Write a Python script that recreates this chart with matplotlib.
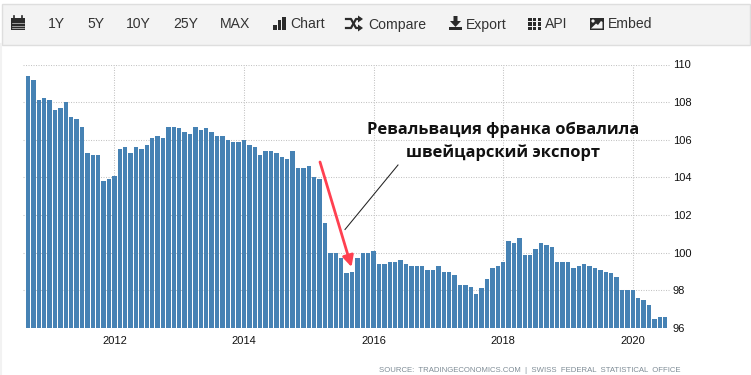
import matplotlib
matplotlib.use("Agg")
import matplotlib.pyplot as plt
from matplotlib.patches import Rectangle, Polygon, Circle

W, H = 751, 375
values = [109.4,109.2,108.1,108.2,108.1,107.6,107.7,108.0,107.2,107.1,106.7,105.3,105.2,105.2,103.8,103.9,
 104.1,105.5,105.6,105.3,105.6,105.5,105.7,106.1,106.2,106.1,106.7,106.7,106.6,106.4,106.3,106.7,106.5,106.6,106.4,106.2,106.2,106.0,105.9,105.9,
 106.0,105.7,105.6,105.2,105.4,105.4,105.3,105.1,105.0,105.4,104.5,104.5,104.6,104.0,103.9,101.6,100.0,100.0,99.7,98.9,99.0,99.7,100.0,100.0,
 100.1,99.4,99.4,99.5,99.5,99.6,99.4,99.3,99.3,99.3,99.1,99.1,99.3,99.0,99.0,98.8,98.3,98.3,98.2,97.8,98.1,98.6,99.2,99.3,
 99.5,100.6,100.5,100.8,99.9,99.9,100.2,100.5,100.4,100.3,99.5,99.5,99.5,99.2,99.3,99.4,99.3,99.2,99.1,99.0,98.9,98.7,98.0,98.0,
 98.0,97.6,97.5,97.2,96.5,96.6,96.6]
year_labels = ["2012","2014","2016","2018","2020"]
year_pos = [16,40,64,88,112]
y_ticks = [96,98,100,102,104,106,108,110]
toolbar = [("1Y",48),("5Y",87),("10Y",126),("25Y",173),("MAX",220),("Chart",290),("Compare",368),("Export",466),("API",545),("Embed",608)]
title_lines = ["Ревальвация франка обвалила","швейцарский экспорт"]
source = "SOURCE:  TRADINGECONOMICS.COM  |  SWISS  FEDERAL  STATISTICAL  OFFICE"

fig = plt.figure(figsize=(W/100,H/100),dpi=100,facecolor="white")
L,R,T,B = 23,670,64.5,328
ax = fig.add_axes([L/W,1-B/H,(R-L)/W,(B-T)/H])
step = 5.4
ax.set_xlim((L-28)/step,(R-28)/step)
ax.set_ylim(96,110)
ax.bar(range(len(values)),values,width=0.78,color="#4682B4",zorder=3,bottom=0)
ax.set_xticks(year_pos,year_labels)
ax.set_yticks(y_ticks)
ax.yaxis.tick_right()
ax.grid(True,color="#c4c4c4",linestyle=(0,(1,1.4)),linewidth=0.75,zorder=1)
for s in ax.spines.values(): s.set_visible(False)
ax.tick_params(axis="both",length=0,labelsize=8,labelcolor="#111111",labelfontfamily="Liberation Sans")
ax.tick_params(axis="x",pad=6)
ax.tick_params(axis="y",pad=2)

o = fig.add_axes([0,0,1,1],zorder=5)
o.set_xlim(0,W); o.set_ylim(H,0); o.axis("off")
o.add_patch(Rectangle((1.5,3.5),748,41,fc="#f3f3f3",ec="#dedede",lw=1))
o.plot([0.8,0.8],[44,H],color="#f2f2f2",lw=1.5)
for t,x in toolbar:
    o.text(x,24.5,t,fontsize=10.1,family="Liberation Sans",color="#333333",va="center",ha="left")
ic="#2b2b2b"
# calendar
o.add_patch(Rectangle((11,18),14,12,fc=ic,ec="none"))
o.plot([14,14],[16,19],color=ic,lw=1.2); o.plot([22,22],[16,19],color=ic,lw=1.2)
for yy in (22.5,25.5,28):
    o.plot([12,24],[yy,yy],color="#cfcfcf",lw=0.5)
# bars
for x,y0 in ((273,25),(277.5,20),(282,17)):
    o.add_patch(Rectangle((x,y0),3.5,30-y0,fc=ic,ec="none"))
# shuffle
o.plot([346,351,356,360],[19,19,28,28],color=ic,lw=1.6)
o.plot([346,351,356,360],[28,28,19,19],color=ic,lw=1.6)
o.add_patch(Polygon([(358,15.5),(363,19),(358,22.5)],fc=ic,ec="none"))
o.add_patch(Polygon([(358,24.5),(363,28),(358,31.5)],fc=ic,ec="none"))
# download
o.add_patch(Polygon([(453.5,16),(457.5,16),(457.5,21),(461,21),(455.5,27),(450,21),(453.5,21)],fc=ic,ec="none"))
o.add_patch(Rectangle((449,27),13,3,fc=ic,ec="none"))
# th
for i in range(3):
    for j in range(3):
        o.add_patch(Rectangle((528+i*4.8,17.5+j*4.6),3.6,3.6,fc=ic,ec="none"))
# image
o.add_patch(Rectangle((589.5,17.5),14,12.5,fc=ic,ec="none"))
o.add_patch(Polygon([(591,28.5),(596,23.5),(598,25),(601,21),(602.5,22),(602.5,28.5)],fc="#f3f3f3",ec="none"))
o.add_patch(Circle((593,21),1.6,fc="#f3f3f3",ec="none"))

o.text(503,130,title_lines[0],fontsize=11.85,family="Open Sans",weight="bold",color="#111111",ha="center",va="center")
o.text(503.5,153,title_lines[1],fontsize=11.85,family="Open Sans",weight="bold",color="#111111",ha="center",va="center")
o.plot([345,398],[229.5,165],color="#222222",lw=0.75)
o.annotate("",xy=(351.5,267),xytext=(320,162),arrowprops=dict(arrowstyle="-|>,head_width=0.3,head_length=0.6",color="#FF4050",lw=2.0,shrinkA=0,shrinkB=0,mutation_scale=11))
o.text(379,370.5,source,fontsize=5.62,family="Liberation Sans",color="#7f8c96",ha="left",va="center")
fig.savefig("out.png",dpi=100)
